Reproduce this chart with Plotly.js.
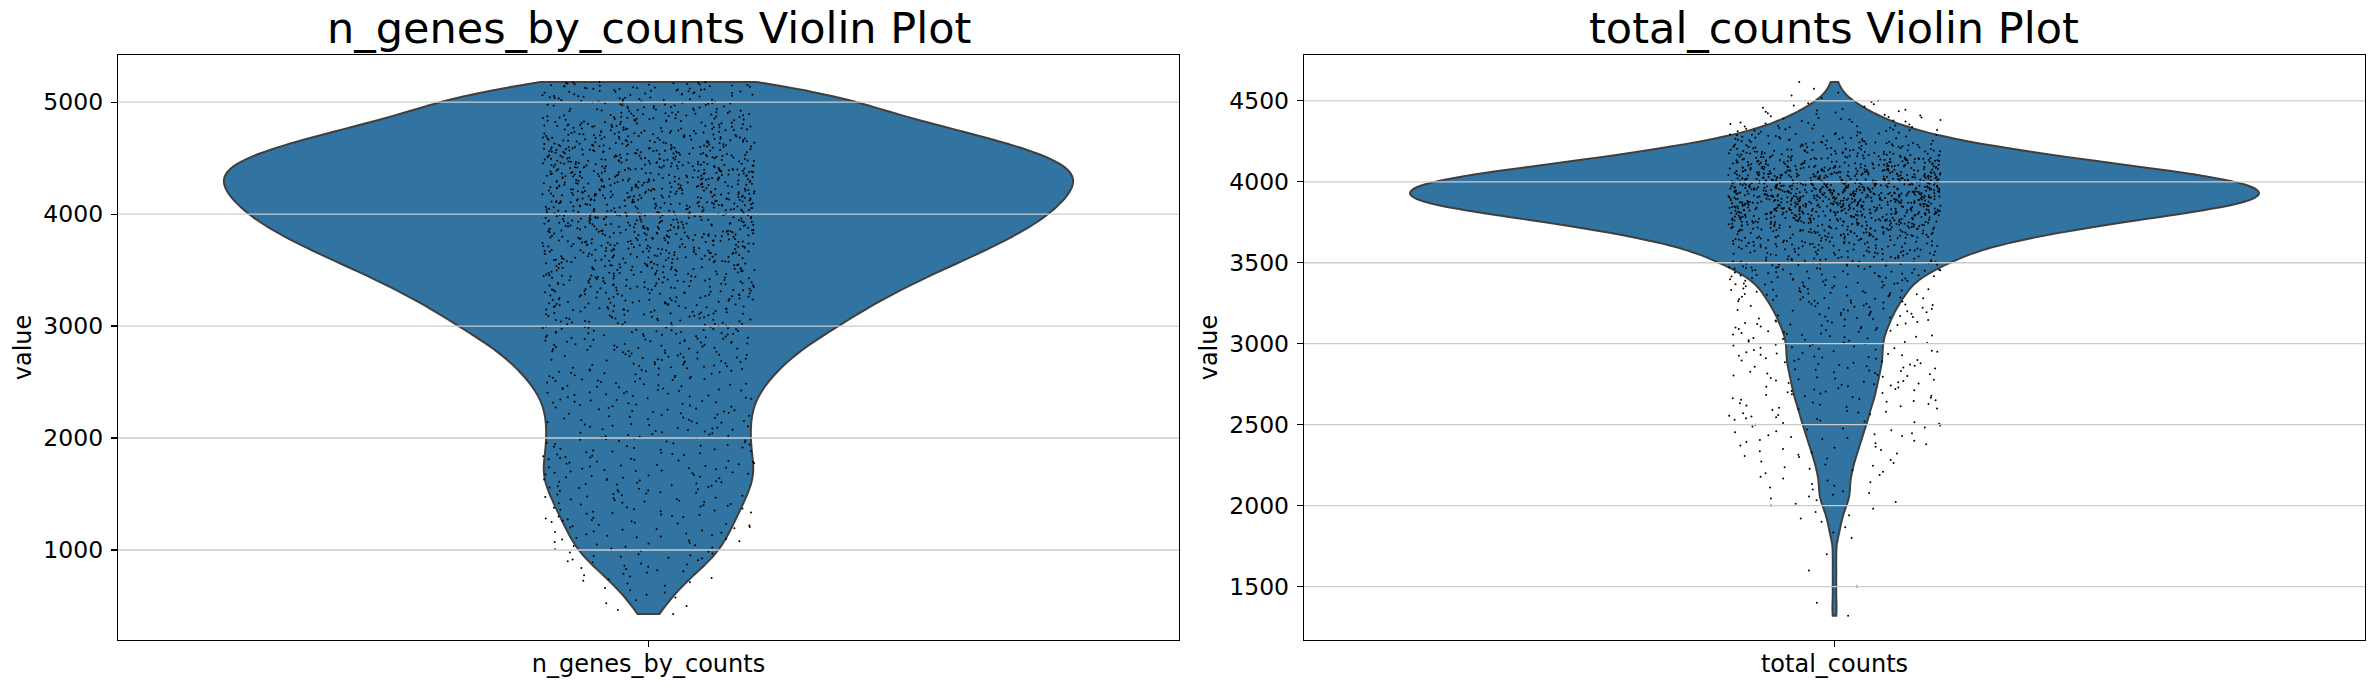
<!DOCTYPE html>
<html>
<head>
<meta charset="utf-8">
<script src="https://cdn.plot.ly/plotly-3.0.1.min.js"></script>
<style>
html, body { margin: 0; padding: 0; background: #ffffff; }
#chart { width: 2371px; height: 690px; }
</style>
</head>
<body>
<div id="chart"></div>
<script>
const ngEdges = [428, 500, 600, 700, 800, 900, 1000, 1100, 1200, 1300, 1400, 1500, 1600, 1700, 1800, 1900,
  2000, 2100, 2200, 2300, 2400, 2500, 2600, 2700, 2800, 2900, 3000, 3100, 3200, 3300, 3400, 3500, 3600,
  3700, 3800, 3900, 4000, 4100, 4200, 4300, 4400, 4500, 4600, 4700, 4800, 4900, 5000, 5100, 5180];
const ngCounts = [2, 4, 5, 8, 10, 13, 14, 15, 16, 17, 18, 19, 20, 20, 19, 19,
  19, 19, 19, 20, 21, 23, 25, 27, 30, 34, 37, 40, 44, 48, 52, 57,
  62, 66, 70, 74, 76, 78, 80, 81, 79, 74, 66, 58, 49, 39, 38, 33];
const ngMax = 5180;

// ---- total_counts: histogram (bin edges + cell counts)
const tcEdges = [1320, 1400, 1500, 1600, 1700, 1800, 1900, 2000, 2100, 2200, 2300, 2400, 2500,
  2550, 2600, 2650, 2700, 2750, 2800, 2850, 2900, 2950, 3000, 3050, 3100, 3150, 3200, 3250, 3300,
  3350, 3400, 3450, 3500, 3550, 3600, 3650, 3700, 3750, 3800, 3850, 3900, 3950, 4000, 4050, 4100,
  4150, 4200, 4250, 4300, 4350, 4400, 4450, 4500, 4550, 4600];
const tcCounts = [1, 1, 1, 1, 1, 3, 5, 9, 9, 11, 14, 17,
  10, 10, 11, 12, 12, 13, 13, 14, 14, 14, 14, 15, 16, 17, 18, 20,
  21, 23, 26, 31, 36, 41, 50, 62, 75, 92, 110, 123, 128, 124, 114, 96,
  76, 60, 44, 31, 22, 16, 11, 7, 3, 2];
const tcMax = 4617;

// ---- categories, titles and tick labels
const categories = ['n_genes_by_counts', 'total_counts'];
const titles = ['n_genes_by_counts Violin Plot', 'total_counts Violin Plot'];
const ngTicks = [1000, 2000, 3000, 4000, 5000];
const tcTicks = [1500, 2000, 2500, 3000, 3500, 4000, 4500];

// the sparse tail and the dense body get their own strip layer so the
// library's density-scaled jitter keeps the tail strip as wide as the body
const ngSplit = 1400;
const tcSplit = 3300;

// build the per-cell value lists from the histograms
function expand(edges, counts, maxVal) {
  const out = [];
  for (let i = 0; i < counts.length; i++) {
    const lo = edges[i], hi = edges[i + 1], c = counts[i];
    for (let k = 0; k < c; k++) out.push(lo + (hi - lo) * k / c);
  }
  out.push(maxVal);
  return out;
}
const ngValues = expand(ngEdges, ngCounts, ngMax);
const tcValues = expand(tcEdges, tcCounts, tcMax);

const FONT = 'DejaVu Sans, Verdana, sans-serif';
const FILL = '#3274a1';
const EDGE = '#3f3f3f';

function violinShape(values, cat, xa, ya, bw) {
  return {
    type: 'violin', y: values, x0: cat, name: cat, xaxis: xa, yaxis: ya,
    width: 0.8, spanmode: 'hard', bandwidth: bw, scalemode: 'width',
    fillcolor: FILL, line: { color: EDGE, width: 2 },
    points: false, box: { visible: false }, meanline: { visible: false },
    hoverinfo: 'skip'
  };
}
function strip(values, cat, xa, ya) {
  return {
    type: 'violin', y: values, x0: cat, name: cat, xaxis: xa, yaxis: ya,
    width: 0.8, spanmode: 'hard', scalemode: 'width',
    fillcolor: 'rgba(0,0,0,0)', line: { color: 'rgba(0,0,0,0)', width: 0 },
    points: 'all', jitter: 0.25, pointpos: 0,
    marker: { color: '#000000', size: 2, line: { width: 0 } },
    box: { visible: false }, meanline: { visible: false },
    hoverinfo: 'skip'
  };
}

const data = [
  violinShape(ngValues, categories[0], 'x', 'y', 130),
  strip(ngValues.filter(v => v < ngSplit), categories[0], 'x', 'y'),
  strip(ngValues.filter(v => v >= ngSplit), categories[0], 'x', 'y'),
  violinShape(tcValues, categories[1], 'x2', 'y2', 50),
  strip(tcValues.filter(v => v < tcSplit), categories[1], 'x2', 'y2'),
  strip(tcValues.filter(v => v >= tcSplit), categories[1], 'x2', 'y2')
];

function xAxis(domain, anchor) {
  return {
    domain: domain, anchor: anchor, type: 'category', range: [-0.5, 0.5],
    showline: true, mirror: true, linecolor: '#000000', linewidth: 1.2,
    ticks: 'outside', ticklen: 6, tickwidth: 1.2, tickcolor: '#000000',
    tickfont: { family: FONT, size: 24, color: '#000000' },
    ticklabelstandoff: -4,
    showgrid: false, zeroline: false, fixedrange: true
  };
}
function yAxis(range, ticks, anchor) {
  return {
    anchor: anchor, range: range, tickvals: ticks, ticktext: ticks.map(String),
    showline: true, mirror: true, linecolor: '#000000', linewidth: 1.2,
    ticks: 'outside', ticklen: 6, tickwidth: 1.2, tickcolor: '#000000',
    tickfont: { family: FONT, size: 23.5, color: '#000000' },
    ticklabelstandoff: 3,
    showgrid: false, zeroline: false, fixedrange: true,
    title: { text: 'value', font: { family: FONT, size: 24, color: '#000000' }, standoff: 4 }
  };
}

function gridShapes(ticks, xref, yref) {
  return ticks.map(t => ({
    type: 'line', xref: xref + ' domain', x0: 0, x1: 1, yref: yref, y0: t, y1: t,
    line: { color: '#cccccc', width: 1.3 }, layer: 'above'
  }));
}

const layout = {
  width: 2371, height: 690,
  margin: { l: 118, r: 6, t: 54.5, b: 50, pad: 0 },
  paper_bgcolor: '#ffffff', plot_bgcolor: '#ffffff',
  font: { family: FONT, color: '#000000', size: 24 },
  showlegend: false,
  violinmode: 'overlay',
  xaxis: xAxis([0, 0.47219], 'y'),
  yaxis: yAxis([196, 5421], ngTicks, 'x'),
  xaxis2: xAxis([0.52781, 1], 'y2'),
  yaxis2: yAxis([1170, 4783], tcTicks, 'x2'),
  shapes: gridShapes(ngTicks, 'x', 'y').concat(gridShapes(tcTicks, 'x2', 'y2')),
  annotations: [
    { text: titles[0], xref: 'x domain', yref: 'y domain', x: 0.5, y: 1, xanchor: 'center', yanchor: 'bottom',
      showarrow: false, font: { family: FONT, size: 43, color: '#000000' } },
    { text: titles[1], xref: 'x2 domain', yref: 'y2 domain', x: 0.5, y: 1, xanchor: 'center', yanchor: 'bottom',
      showarrow: false, font: { family: FONT, size: 43, color: '#000000' } }
  ]
};

Plotly.newPlot('chart', data, layout, { displayModeBar: false, staticPlot: true });
</script>
</body>
</html>
